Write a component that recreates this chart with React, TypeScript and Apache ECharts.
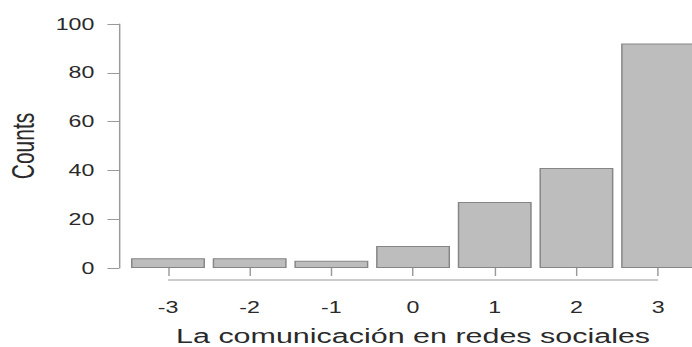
import React, { useEffect, useRef } from "react";
import * as echarts from "echarts";

const categories = ["-3", "-2", "-1", "0", "1", "2", "3"];
const counts = [4, 4, 3, 9, 27, 41, 92];
const yTicks = [0, 20, 40, 60, 80, 100];
const xTitle = "La comunicación en redes sociales";
const yTitle = "Counts";

const W = 477;
const H = 347;
const SX = 692 / W;
const FONT = "'Liberation Sans', Arial, Helvetica, sans-serif";
const LINE = "#9a9a9a";
const TEXT = "#2a2a2a";

export default function App() {
  const ref = useRef<HTMLDivElement>(null);
  useEffect(() => {
    if (!ref.current) return;
    const chart = echarts.init(ref.current, null, { renderer: "svg" });
    chart.setOption({
      animation: false,
      backgroundColor: "#ffffff",
      grid: {
        left: 87.65,
        right: -4.8,
        top: 24,
        bottom: 79,
        containLabel: false,
        outerBoundsMode: "none",
      },
      xAxis: {
        type: "category",
        data: categories,
        offset: 12,
        axisLine: { show: false },
        axisTick: { show: true, alignWithLabel: true, length: 8, lineStyle: { color: LINE, width: 1 } },
        axisLabel: { color: TEXT, fontSize: 16, fontFamily: FONT, margin: 19 },
        name: xTitle,
        nameLocation: "middle",
        nameGap: 45,
        nameTextStyle: { color: TEXT, fontSize: 21, lineHeight: 22, fontFamily: FONT },
        splitLine: { show: false },
      },
      yAxis: {
        type: "value",
        min: 0,
        max: 100,
        interval: 20,
        offset: 5.6,
        axisLine: { show: true, lineStyle: { color: LINE, width: 1 } },
        axisTick: { show: true, length: 8, lineStyle: { color: LINE, width: 1 } },
        axisLabel: {
          color: TEXT,
          fontSize: 16,
          fontFamily: FONT,
          margin: 17,
          formatter: (v: number) => (yTicks.includes(v) ? String(v) : ""),
        },
        splitLine: { show: false },
        name: yTitle,
        nameLocation: "middle",
        nameGap: 55,
        nameTextStyle: { color: TEXT, fontSize: 21, fontFamily: FONT },
      },
      series: [
        {
          type: "bar",
          data: counts,
          barCategoryGap: "9.5%",
          itemStyle: { color: "#bdbdbd", borderColor: "#858585", borderWidth: 1 },
        },
      ],
    });
    const x0 = chart.convertToPixel({ xAxisIndex: 0 }, categories[0]) as number;
    const x1 = chart.convertToPixel({ xAxisIndex: 0 }, categories[categories.length - 1]) as number;
    const y0 = (chart.convertToPixel({ yAxisIndex: 0 }, 0) as number) + 12;
    chart.setOption({
      graphic: [
        {
          type: "line",
          shape: { x1: x0, y1: y0, x2: x1, y2: y0 },
          style: { stroke: LINE, lineWidth: 1 },
          silent: true,
        },
      ],
    });
    return () => chart.dispose();
  }, []);
  return (
    <div
      ref={ref}
      style={{
        position: "fixed",
        left: 0,
        top: 0,
        width: W,
        height: H,
        transform: `scaleX(${SX})`,
        transformOrigin: "0 0",
      }}
    />
  );
}
